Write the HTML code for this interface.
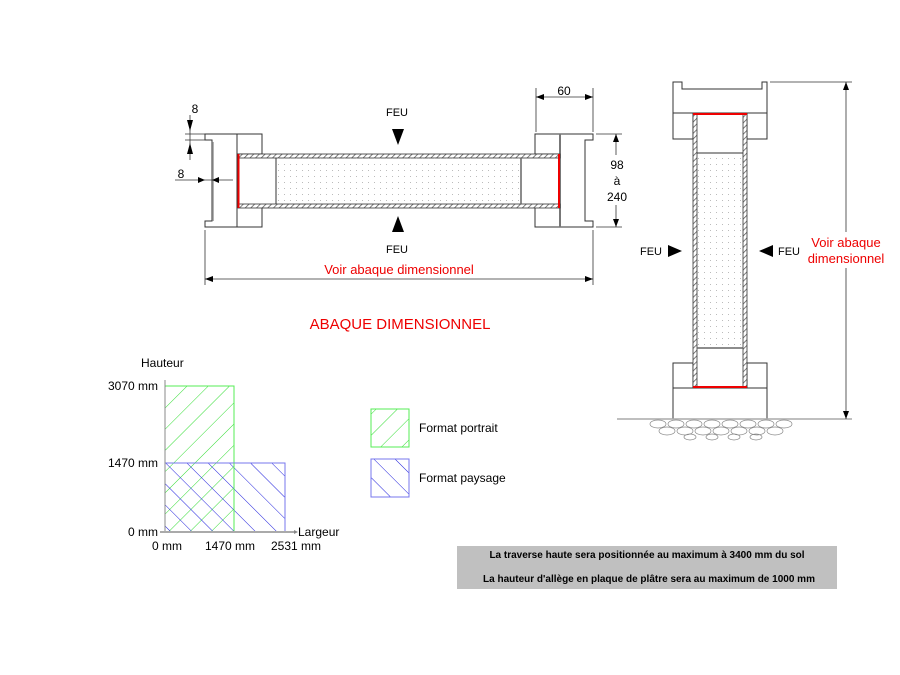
<!DOCTYPE html>
<html><head><meta charset="utf-8"><style>
html,body{margin:0;padding:0;background:#fff;width:900px;height:675px;overflow:hidden}
svg{display:block}
text{font-family:"Liberation Sans",Arial,sans-serif}
</style></head><body>
<svg width="900" height="675" viewBox="0 0 900 675" xmlns="http://www.w3.org/2000/svg">
<defs>
<pattern id="dots" width="6" height="6" patternUnits="userSpaceOnUse"><rect x="2" y="2" width="1" height="1" fill="#bbb"/></pattern>
<pattern id="hatch" width="4" height="4" patternUnits="userSpaceOnUse" patternTransform="rotate(45)"><rect width="4" height="4" fill="#fff"/><line x1="0" y1="0" x2="0" y2="4" stroke="#555" stroke-width="1.5"/></pattern>
<pattern id="green" width="15" height="15" patternUnits="userSpaceOnUse" patternTransform="rotate(-45)"><line x1="0" y1="0" x2="15" y2="0" stroke="#33dd33" stroke-width="1"/></pattern>
<pattern id="blue" width="15" height="15" patternUnits="userSpaceOnUse" patternTransform="rotate(45)"><line x1="0" y1="0" x2="15" y2="0" stroke="#2222dd" stroke-width="1"/></pattern>
<marker id="ar" markerWidth="8" markerHeight="6" refX="8" refY="3" orient="auto" markerUnits="userSpaceOnUse"><path d="M0,0 L8,3 L0,6 z" fill="#000"/></marker>
<marker id="al" markerWidth="8" markerHeight="6" refX="0" refY="3" orient="auto" markerUnits="userSpaceOnUse"><path d="M8,0 L0,3 L8,6 z" fill="#000"/></marker>
</defs>

<!-- Horizontal section -->
<g fill="none" stroke="#333" stroke-width="1">
  <path d="M262,134 H205 V140 H212 V221 H205 V227 H262"/>
  <line x1="237" y1="134" x2="237" y2="227"/>
  <rect x="237" y="134" width="25" height="20"/>
  <rect x="237" y="207" width="25" height="20"/>
  <path d="M535,134 H593 V140 H585 V221 H593 V227 H535"/>
  <rect x="535" y="134" width="25" height="20"/>
  <rect x="535" y="207" width="25" height="20"/>
</g>
<line x1="213" y1="142" x2="213" y2="221" stroke="#999" stroke-width="1.5"/>
<line x1="560" y1="134" x2="560" y2="227" stroke="#777" stroke-width="2"/>
<rect x="238" y="154" width="322" height="4" fill="url(#hatch)" stroke="#333" stroke-width="0.8"/>
<rect x="238" y="204" width="322" height="4" fill="url(#hatch)" stroke="#333" stroke-width="0.8"/>
<rect x="276" y="158" width="245" height="46" fill="url(#dots)"/>
<line x1="276" y1="158" x2="276" y2="204" stroke="#333"/>
<line x1="521" y1="158" x2="521" y2="204" stroke="#666" stroke-width="1.5"/>
<line x1="238.5" y1="154" x2="238.5" y2="208" stroke="#e00" stroke-width="2"/>
<line x1="559" y1="154" x2="559" y2="208" stroke="#e00" stroke-width="2"/>
<!-- dims -->
<g stroke="#333" stroke-width="0.8" fill="none">
  <line x1="190" y1="115" x2="190" y2="160"/>
  <line x1="185" y1="134" x2="205" y2="134"/>
  <line x1="185" y1="140" x2="205" y2="140"/>
  <line x1="175" y1="180" x2="233" y2="180"/>
  <line x1="536" y1="88" x2="536" y2="132"/>
  <line x1="593" y1="88" x2="593" y2="132"/>
  <line x1="536" y1="97" x2="593" y2="97" marker-start="url(#al)" marker-end="url(#ar)"/>
  <line x1="596" y1="134" x2="622" y2="134"/>
  <line x1="596" y1="227" x2="622" y2="227"/>
  <line x1="616" y1="134" x2="616" y2="155" marker-start="url(#al)"/>
  <line x1="616" y1="205" x2="616" y2="227" marker-end="url(#ar)"/>
  <line x1="205" y1="230" x2="205" y2="285"/>
  <line x1="593" y1="230" x2="593" y2="285"/>
  <line x1="205" y1="279" x2="593" y2="279" marker-start="url(#al)" marker-end="url(#ar)"/>
</g>
<path d="M187,120 L190,131 L193,120z M187,154 L190,143 L193,154z M198,177 L205,180 L198,183z M219,177 L212,180 L219,183z" fill="#000"/>
<g font-size="12" fill="#000">
  <text x="195" y="113" text-anchor="middle">8</text>
  <text x="181" y="178" text-anchor="middle">8</text>
  <text x="564" y="95" text-anchor="middle">60</text>
  <text x="617" y="169" text-anchor="middle">98</text>
  <text x="617" y="185" text-anchor="middle">à</text>
  <text x="617" y="201" text-anchor="middle">240</text>
</g>
<g font-size="11">
  <text x="397" y="116" text-anchor="middle">FEU</text>
  <text x="397" y="253" text-anchor="middle">FEU</text>
</g>
<path d="M392,129 H404 L398,145z M392,232 H404 L398,216z" fill="#000"/>
<text x="399" y="274" text-anchor="middle" font-size="13" fill="#e00">Voir abaque dimensionnel</text>

<!-- Vertical section -->
<g fill="none" stroke="#333" stroke-width="1">
  <path d="M673,113 V82 H682 V89 H762 V82 H767 V113 Z"/>
  <rect x="673" y="113" width="20" height="26"/>
  <rect x="747" y="113" width="20" height="26"/>
  <rect x="673" y="363" width="20" height="25"/>
  <rect x="747" y="363" width="20" height="25"/>
  <rect x="673" y="388" width="94" height="31"/>
</g>
<rect x="693" y="114" width="4" height="274" fill="url(#hatch)" stroke="#333" stroke-width="0.8"/>
<rect x="743" y="114" width="4" height="274" fill="url(#hatch)" stroke="#333" stroke-width="0.8"/>
<rect x="697" y="153" width="46" height="195" fill="url(#dots)"/>
<line x1="697" y1="153" x2="743" y2="153" stroke="#333"/>
<line x1="697" y1="348" x2="743" y2="348" stroke="#666" stroke-width="1.5"/>
<line x1="693" y1="114" x2="747" y2="114" stroke="#e00" stroke-width="2"/>
<line x1="693" y1="387" x2="747" y2="387" stroke="#e00" stroke-width="2"/>
<line x1="617" y1="419" x2="852" y2="419" stroke="#aaa" stroke-width="1.5"/>
<g stroke="#888" stroke-width="0.7" fill="none">
  <ellipse cx="658" cy="424" rx="8" ry="4"/><ellipse cx="676" cy="424" rx="8" ry="4"/><ellipse cx="694" cy="424" rx="8" ry="4"/><ellipse cx="712" cy="424" rx="8" ry="4"/><ellipse cx="730" cy="424" rx="8" ry="4"/><ellipse cx="748" cy="424" rx="8" ry="4"/><ellipse cx="766" cy="424" rx="8" ry="4"/><ellipse cx="784" cy="424" rx="8" ry="4"/>
  <ellipse cx="667" cy="431" rx="8" ry="4"/><ellipse cx="685" cy="431" rx="8" ry="4"/><ellipse cx="703" cy="431" rx="8" ry="4"/><ellipse cx="721" cy="431" rx="8" ry="4"/><ellipse cx="739" cy="431" rx="8" ry="4"/><ellipse cx="757" cy="431" rx="8" ry="4"/><ellipse cx="775" cy="431" rx="8" ry="4"/>
  <ellipse cx="690" cy="437" rx="6" ry="3"/><ellipse cx="712" cy="437" rx="6" ry="3"/><ellipse cx="734" cy="437" rx="6" ry="3"/><ellipse cx="756" cy="437" rx="6" ry="3"/>
</g>
<g stroke="#333" stroke-width="0.8">
  <line x1="770" y1="82" x2="852" y2="82"/>
  <line x1="846" y1="82" x2="846" y2="232" marker-start="url(#al)"/>
  <line x1="846" y1="268" x2="846" y2="419" marker-end="url(#ar)"/>
</g>
<text x="846" y="247" text-anchor="middle" font-size="13" fill="#e00">Voir abaque</text>
<text x="846" y="263" text-anchor="middle" font-size="13" fill="#e00">dimensionnel</text>
<g font-size="11">
  <text x="640" y="255">FEU</text>
  <text x="778" y="255">FEU</text>
</g>
<path d="M668,245 V257 L682,251z M773,245 V257 L759,251z" fill="#000"/>

<text x="400" y="329" text-anchor="middle" font-size="15" fill="#e00">ABAQUE DIMENSIONNEL</text>

<!-- Chart -->
<rect x="165" y="386" width="69" height="146" fill="url(#green)" stroke="#55ee55" stroke-width="1"/>
<rect x="165" y="463" width="120" height="69" fill="url(#blue)" stroke="#7777ee" stroke-width="1"/>
<line x1="234" y1="463" x2="234" y2="532" stroke="#55ee55"/>
<line x1="165" y1="380" x2="165" y2="532" stroke="#888"/>
<line x1="160" y1="532" x2="295" y2="532" stroke="#aaa" stroke-width="2"/>
<path d="M294,530 L298,532 L294,534z" fill="#888"/>
<g font-size="12" fill="#000">
  <text x="141" y="367">Hauteur</text>
  <text x="158" y="390" text-anchor="end">3070 mm</text>
  <text x="158" y="467" text-anchor="end">1470 mm</text>
  <text x="158" y="536" text-anchor="end">0 mm</text>
  <text x="298" y="536">Largeur</text>
  <text x="167" y="550" text-anchor="middle">0 mm</text>
  <text x="230" y="550" text-anchor="middle">1470 mm</text>
  <text x="296" y="550" text-anchor="middle">2531 mm</text>
</g>

<!-- Legend -->
<rect x="371" y="409" width="38" height="38" fill="url(#green)" stroke="#55ee55"/>
<rect x="371" y="459" width="38" height="38" fill="url(#blue)" stroke="#7777ee"/>
<text x="419" y="432" font-size="12">Format portrait</text>
<text x="419" y="482" font-size="12">Format paysage</text>

<!-- Note -->
<rect x="457" y="546" width="380" height="43" fill="#c0c0c0"/>
<text x="647" y="558" text-anchor="middle" font-size="10" font-weight="bold">La traverse haute sera positionnée au maximum à 3400 mm du sol</text>
<text x="649" y="582" text-anchor="middle" font-size="10" font-weight="bold">La hauteur d'allège en plaque de plâtre sera au maximum de 1000 mm</text>
</svg>
</body></html>
